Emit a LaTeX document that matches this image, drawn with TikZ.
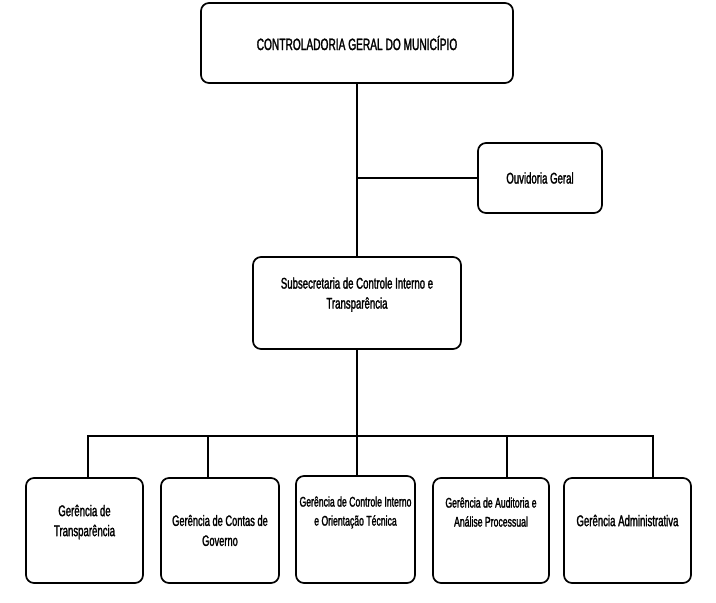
\documentclass[tikz,border=0pt]{standalone}
\usepackage{fontspec}
\setmainfont{Liberation Sans}[FakeStretch=0.62, FakeBold=1.6]
\usetikzlibrary{positioning, calc}
\tikzset{
    orgbox/.style={rectangle, rounded corners=8pt, draw=black, line width=1.7pt, align=center, font=\fontsize{15.5}{20}\selectfont},
    smallbox/.style={orgbox, font=\fontsize{14}{19}\selectfont},
    link/.style={line width=1.7pt, color=black},
}
\begin{document}
\begin{tikzpicture}[x=1pt, y=-1pt]
\useasboundingbox (0,0) rectangle (716,603);

% Controladoria e Ouvidoria
\node[orgbox, minimum width=312pt, minimum height=80pt, font=\fontsize{16.4}{20}\selectfont] (cgm) at (357,43) {CONTROLADORIA GERAL DO MUNIC\'IPIO};
\node[orgbox, minimum width=124pt, minimum height=70pt] (ouv) at (540,178) {Ouvidoria Geral};

% Subsecretaria
\node[orgbox, minimum width=208pt, minimum height=92pt, text depth=20pt] (sub) at (357,303) {Subsecretaria de Controle Interno e\\Transpar\^encia};

% Gerencias
\node[orgbox, minimum width=117pt, minimum height=105pt, text depth=20pt] (g1) at (84.5,530.5) {Ger\^encia de\\Transpar\^encia};
\node[orgbox, minimum width=118pt, minimum height=105pt, font=\fontsize{15}{20}\selectfont] (g2) at (220,530.5) {Ger\^encia de Contas de\\Governo};
\node[smallbox, minimum width=119pt, minimum height=107pt, text depth=37pt] (g3) at (355.5,529.5) {Ger\^encia de Controle Interno\\e Orienta\c{c}\~ao T\'ecnica};
\node[smallbox, minimum width=116pt, minimum height=105pt, text depth=37pt] (g4) at (491,530.5) {Ger\^encia de Auditoria e\\An\'alise Processual};
\node[orgbox, minimum width=127pt, minimum height=105pt, text depth=20pt] (g5) at (627.5,530.5) {Ger\^encia Administrativa};

% Ligacoes
\coordinate (bus) at (357,436);
\coordinate (d1) at ([xshift=3.5pt]g1.north);
\coordinate (d2) at ([xshift=-12pt]g2.north);
\coordinate (d3) at ([xshift=1.5pt]g3.north);
\coordinate (d4) at ([xshift=16pt]g4.north);
\coordinate (d5) at ([xshift=25.5pt]g5.north);
\draw[link] (cgm.south) -- (sub.north);
\draw[link] (cgm.south |- ouv.west) -- (ouv.west);
\draw[link] (sub.south) -- (bus);
\draw[link] (d1) |- (bus) -| (d5);
\draw[link] (d2) -- (d2 |- bus);
\draw[link] (d3) -- (d3 |- bus);
\draw[link] (d4) -- (d4 |- bus);
\end{tikzpicture}
\end{document}
